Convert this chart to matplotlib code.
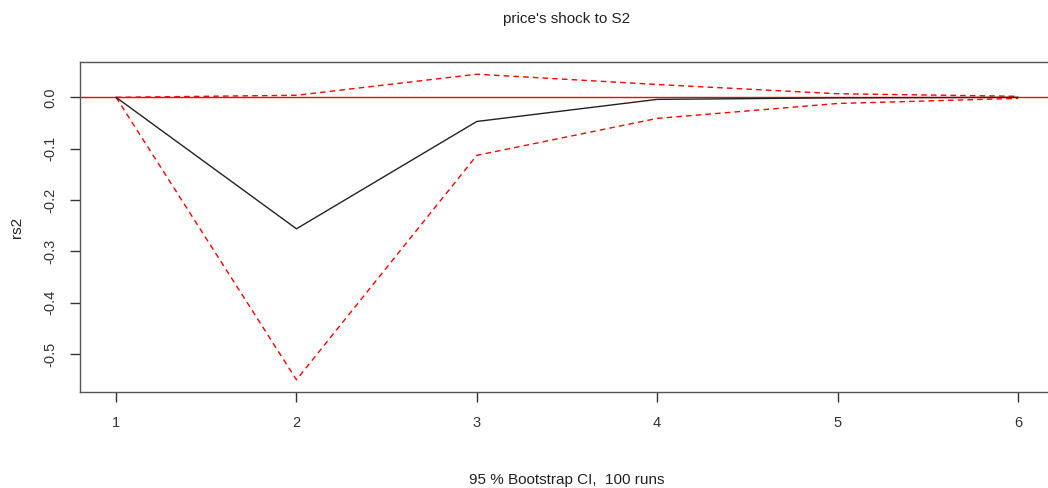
import numpy as np
import matplotlib
matplotlib.use("Agg")
import matplotlib.pyplot as plt

plt.rcParams['font.family'] = ['Liberation Sans', 'DejaVu Sans']

# impulse response of rs2 to a price shock, with bootstrap bands
steps = [1, 2, 3, 4, 5, 6]
irf = [0.0, -0.256, -0.047, -0.004, -0.001, 0.0]
lower = [0.0, -0.550, -0.113, -0.041, -0.012, -0.002]
upper = [0.0, 0.004, 0.045, 0.025, 0.007, 0.002]
yticks = [0.0, -0.1, -0.2, -0.3, -0.4, -0.5]

fig = plt.figure(figsize=(10.48, 4.88), dpi=100)
# right edge runs past the figure like the cropped original
ax = fig.add_axes([80 / 1048, 1 - 392 / 488, 974 / 1048, 330 / 488])

ax.axhline(0, color='red', lw=1, zorder=1)
ax.plot(steps, irf, color='#222222', lw=1, zorder=3)
ax.plot(steps, lower, color='red', lw=1, ls=(0, (4, 3)), zorder=2)
ax.plot(steps, upper, color='red', lw=1, ls=(0, (4, 3)), zorder=2)

ax.set_xlim(0.8, 6.2)
ax.set_ylim(-0.5738, 0.0688)
ax.set_xticks(steps)
ax.set_yticks(yticks)
ax.set_yticklabels(['%.1f' % v for v in yticks], rotation=90, va='center')

for s in ax.spines.values():
    s.set_color('#555555')
    s.set_linewidth(1)
ax.tick_params(colors='#333333', labelsize=10.5, length=7, width=1)
ax.tick_params(axis='x', pad=10)
ax.tick_params(axis='y', pad=9)

ax.set_title("price's shock to S2", fontsize=11, color='#222222', pad=28)
ax.set_xlabel('95 % Bootstrap CI,  100 runs', fontsize=11, color='#222222', labelpad=31)
ax.set_ylabel('rs2', fontsize=11, color='#222222', labelpad=14)

fig.savefig('out.png', dpi=100, facecolor='white')
